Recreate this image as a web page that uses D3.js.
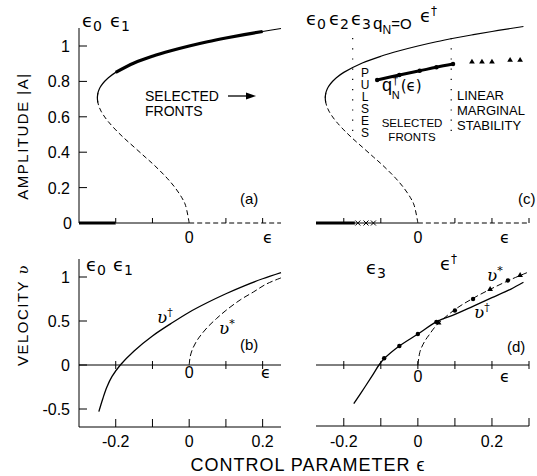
<!DOCTYPE html>
<html>
<head>
<meta charset="utf-8">
<script src="https://cdn.jsdelivr.net/npm/d3@7"></script>
<style>
  body { margin: 0; background: #fff; }
  svg { display: block; }
  text { font-family: 'Liberation Sans', Arial, Helvetica, sans-serif; fill: #000; }
  text.sym { font-family: 'DejaVu Sans', sans-serif; }
  text.vel { font-family: 'DejaVu Serif', serif; font-style: italic; }
</style>
</head>
<body>
<svg id="fig" width="537" height="476"></svg>
<script>
// amplitude branch (lower + upper), ordered by amplitude
var branchEps = [0, -0.01, -0.02, -0.04, -0.06, -0.08, -0.1, -0.12, -0.15, -0.18, -0.2, -0.22, -0.23, -0.24,
    -0.245, -0.2486, -0.25, -0.2484, -0.245, -0.24, -0.23, -0.22, -0.2, -0.15, -0.1, -0.05, 0, 0.05, 0.1,
    0.15, 0.2, 0.25, 0.285];
var branchAmp = [0, 0.1, 0.143, 0.204, 0.253, 0.296, 0.336, 0.373, 0.429, 0.485, 0.526, 0.572, 0.599, 0.632,
    0.655, 0.68, 0.707, 0.735, 0.756, 0.775, 0.801, 0.821, 0.851, 0.904, 0.942, 0.973, 1.0, 1.024, 1.045,
    1.064, 1.082, 1.099, 1.11];

// selected pulse/front amplitude q_N dagger (c)
var qEps = [-0.11, -0.05, 0.005, 0.05, 0.095];
var qAmp = [0.808, 0.836, 0.86, 0.88, 0.898];
var triEps = [0.146, 0.173, 0.2, 0.249, 0.276];
var triAmp = [0.91, 0.91, 0.91, 0.92, 0.92];

// velocities (b)
var vbEps = [-0.246, -0.235, -0.224, -0.21, -0.1875, -0.15, -0.1, -0.05, 0, 0.05, 0.1, 0.15, 0.2, 0.25];
var vbDagger = [-0.53, -0.38, -0.25, -0.13, 0, 0.16, 0.33, 0.47, 0.6, 0.71, 0.81, 0.9, 0.98, 1.05];
var vbStarEps = [0, 0.003, 0.01, 0.02, 0.03, 0.05, 0.075, 0.1, 0.139, 0.175, 0.21, 0.25];
var vbStar = [0, 0.1, 0.19, 0.27, 0.33, 0.43, 0.53, 0.62, 0.74, 0.83, 0.92, 0.99];

// velocities (d)
var vdEps = [-0.173, -0.143, -0.12, -0.105, -0.09, -0.05, 0, 0.05, 0.1, 0.15, 0.2, 0.25, 0.285];
var vdDagger = [-0.44, -0.25, -0.1, 0, 0.076, 0.216, 0.352, 0.49, 0.575, 0.67, 0.765, 0.86, 0.94];
var vdStarEps = [0, 0.005, 0.01, 0.02, 0.03, 0.05, 0.1, 0.15, 0.2, 0.25, 0.295];
var vdStar = [0, 0.14, 0.2, 0.28, 0.34, 0.45, 0.63, 0.76, 0.87, 0.97, 1.05];
var dotEps = [-0.091, -0.05, 0, 0.05, 0.1, 0.149, 0.243];
var dotVel = [0.076, 0.216, 0.352, 0.49, 0.62, 0.75, 0.96];
var triDEps = [0.056, 0.195, 0.276];
var triDVel = [0.48, 0.86, 1.02];

// ticks
var ampTicks = [0.2, 0.4, 0.6, 0.8, 1];
var ampLabels = ['0.2', '0.4', '0.6', '0.8', '1'];
var velTicks = [-0.5, 0, 0.5, 1];
var velLabels = ['-0.5', '0', '0.5', '1'];
var epsTicksL = [-0.2, -0.1, 0, 0.1, 0.2];
var epsTicksR = [-0.2, -0.1, 0, 0.1, 0.2, 0.3];
var epsLabelTicks = [-0.2, 0, 0.2];
var epsLabels = ['-0.2', '0', '0.2'];

// special control parameter values
var eps1 = -0.2;
var epsPulse = -0.17;
var crossEps = [-0.162, -0.14, -0.12];
var dotLineEps = [-0.176, 0.09];

var svg = d3.select('#fig');

var xL = d3.scaleLinear().domain([-0.3, 0.25]).range([79, 281]);
var xR = d3.scaleLinear().domain([-0.275, 0.3]).range([316, 529]);
var yA = d3.scaleLinear().domain([0, 1]).range([223, 46]);
var yV = d3.scaleLinear().domain([-0.5, 1]).range([409, 277]);

function pts(xs, ys) { return d3.zip(xs, ys); }

function path(g, x, y, data, width, dash) {
    var line = d3.line()
        .x(function (d) { return x(d[0]); })
        .y(function (d) { return y(d[1]); })
        .curve(d3.curveCatmullRom);
    return g.append('path')
        .attr('d', line(data))
        .style('fill', 'none')
        .style('stroke', '#000')
        .style('stroke-width', width)
        .style('stroke-dasharray', dash || null);
}

function seg(g, x1, y1, x2, y2, width, dash) {
    g.append('line')
        .attr('x1', x1).attr('y1', y1).attr('x2', x2).attr('y2', y2)
        .style('stroke', '#000')
        .style('stroke-width', width)
        .style('stroke-dasharray', dash || null);
}

function label(x, y, str, size, anchor) {
    return svg.append('text')
        .attr('x', x).attr('y', y)
        .attr('text-anchor', anchor || 'start')
        .style('font-size', size + 'px')
        .text(str);
}

// symbol with subscript / superscript
function sym(x, y, base, sub, sup, size, cls) {
    var t = label(x, y, base, size).attr('class', cls || 'sym');
    if (sub) t.append('tspan').attr('dy', 4).style('font-size', (size - 4) + 'px').text(sub);
    if (sup) t.append('tspan').attr('dy', sub ? -10 : -7).style('font-size', (size - 6) + 'px')
        .style('font-style', 'normal').text(sup);
    return t;
}

var branch = pts(branchEps, branchAmp);
var nose = 16;
var lowerPart = branch.slice(0, nose + 2);
var upperPart = branch.slice(nose - 1);

// ---------- panel (a)
var ga = svg.append('g');
seg(ga, xL(-0.3), yA(0), xL(-0.3), 28, 1);
ampTicks.forEach(function (t, i) {
    seg(ga, xL(-0.3), yA(t), xL(-0.3) + 8, yA(t), 1);
    label(70, yA(t) + 6, ampLabels[i], 16, 'end');
});
label(72, yA(0) + 6, '0', 16, 'end');
seg(ga, xL(-0.3), yA(0), xL(eps1), yA(0), 3.2);
seg(ga, xL(eps1), yA(0), xL(0), yA(0), 1);
seg(ga, xL(0), yA(0), xL(0.25), yA(0), 1, '5,3');
[-0.2, -0.1, 0.1, 0.2].forEach(function (t) { seg(ga, xL(t), yA(0), xL(t), yA(0) - 5, 1); });
path(ga, xL, yA, lowerPart, 1, '5,3');
path(ga, xL, yA, upperPart.filter(function (d) { return d[0] <= 0.25; }), 1.2);
path(ga, xL, yA, branch.slice(nose + 6).filter(function (d) { return d[0] >= eps1 && d[0] <= 0.24; }), 3.2);
label(xL(0), 243, '0', 16, 'middle');
label(268, 243, 'ϵ', 16, 'middle').attr('class', 'sym');
label(240, 204, '(a)', 15);
label(145, 101, 'SELECTED', 14);
label(145, 116, 'FRONTS', 14);
seg(ga, 228, 96, 250, 96, 1.3);
ga.append('path').attr('d', 'M256,96 L246,92.5 L246,99.5 Z').style('fill', '#000');
sym(82, 27, 'ϵ', '0', null, 18);
sym(110, 27, 'ϵ', '1', null, 18);

// ---------- panel (c)
var gc = svg.append('g');
seg(gc, xR(-0.275), yA(0), xR(epsPulse), yA(0), 3.2);
seg(gc, xR(epsPulse), yA(0), xR(0), yA(0), 1);
seg(gc, xR(0), yA(0), xR(0.3), yA(0), 1, '5,3');
[-0.2, -0.1, 0.1, 0.2, 0.3].forEach(function (t) { seg(gc, xR(t), yA(0), xR(t), yA(0) - 5, 1); });
crossEps.forEach(function (e) {
    var cx = xR(e), cy = yA(0);
    seg(gc, cx - 2.5, cy - 2.5, cx + 2.5, cy + 2.5, 1);
    seg(gc, cx - 2.5, cy + 2.5, cx + 2.5, cy - 2.5, 1);
});
path(gc, xR, yA, lowerPart, 1, '5,3');
path(gc, xR, yA, upperPart, 1.2);
dotLineEps.forEach(function (e) { seg(gc, xR(e), 38, xR(e), 140, 1.2, '1.2,9'); });
var qData = pts(qEps, qAmp);
path(gc, xR, yA, qData, 3);
gc.selectAll('circle.q').data(qData).enter().append('circle')
    .attr('cx', function (d) { return xR(d[0]); })
    .attr('cy', function (d) { return yA(d[1]); })
    .attr('r', 2.2);
gc.selectAll('path.tri').data(pts(triEps, triAmp)).enter().append('path')
    .attr('d', d3.symbol(d3.symbolTriangle, 14))
    .attr('transform', function (d) { return 'translate(' + xR(d[0]) + ',' + yA(d[1]) + ')'; });
label(xR(0), 243, '0', 16, 'middle');
label(505, 243, 'ϵ', 16, 'middle').attr('class', 'sym');
label(518, 204, '(c)', 15);
sym(306, 25, 'ϵ', '0', null, 18);
sym(329, 25, 'ϵ', '2', null, 18);
sym(351, 25, 'ϵ', '3', null, 18);
var qt = label(373, 29, 'q', 17);
qt.append('tspan').attr('dy', 5).style('font-size', '12px').text('N');
qt.append('tspan').attr('dy', -5).style('font-size', '15px').text('=O');
sym(420, 22, 'ϵ', null, '†', 18);
label(365, 66, 'PULSES', 12)
    .style('writing-mode', 'vertical-rl')
    .style('text-orientation', 'upright')
    .style('letter-spacing', '-2px');
var qn = label(382, 91, 'q', 18);
qn.append('tspan').attr('dx', 0).attr('dy', -7).style('font-size', '12px').text('†');
qn.append('tspan').attr('dx', -7).attr('dy', 15).style('font-size', '11px').text('N');
qn.append('tspan').attr('dx', 1).attr('dy', -8).style('font-size', '15px')
    .style('font-family', "'DejaVu Sans', sans-serif").text('(ϵ)');
label(457, 100, 'LINEAR', 13);
label(457, 115, 'MARGINAL', 13);
label(457, 130, 'STABILITY', 13);
label(412, 127, 'SELECTED', 11.5, 'middle');
label(412, 141, 'FRONTS', 11.5, 'middle');

// ---------- panel (b)
var gb = svg.append('g');
seg(gb, xL(-0.3), 427, xL(-0.3), 259, 1);
velTicks.forEach(function (t, i) {
    seg(gb, xL(-0.3), yV(t), xL(-0.3) + 8, yV(t), 1);
    label(70, yV(t) + 6, velLabels[i], 16, 'end');
});
seg(gb, xL(-0.3), yV(0), xL(0.25), yV(0), 1);
[-0.2, -0.1, 0.1, 0.2].forEach(function (t) { seg(gb, xL(t), yV(0) - 4, xL(t), yV(0) + 4, 1); });
seg(gb, xL(-0.3), 427, xL(0.25), 427, 1);
epsTicksL.forEach(function (t) { seg(gb, xL(t), 427, xL(t), 419, 1); });
epsLabelTicks.forEach(function (t, i) { label(xL(t), 447, epsLabels[i], 16, 'middle'); });
path(gb, xL, yV, pts(vbEps, vbDagger), 1.3);
path(gb, xL, yV, pts(vbStarEps, vbStar), 1, '6,3');
label(xL(0), 378, '0', 16, 'middle');
label(266, 378, 'ϵ', 16, 'middle').attr('class', 'sym');
label(240, 350, '(b)', 15);
sym(86, 271, 'ϵ', '0', null, 18);
sym(113, 271, 'ϵ', '1', null, 18);
sym(157, 323, 'ʋ', null, '†', 17, 'vel');
sym(219, 334, 'ʋ', null, '*', 17, 'vel');

// ---------- panel (d)
var gd = svg.append('g');
seg(gd, xR(-0.275), yV(0), xR(0.3), yV(0), 1);
epsTicksR.forEach(function (t) { seg(gd, xR(t), yV(0) - 4, xR(t), yV(0) + 4, 1); });
seg(gd, xR(-0.275), 426, xR(0.3), 426, 1);
epsTicksR.forEach(function (t) { seg(gd, xR(t), 426, xR(t), 418, 1); });
epsLabelTicks.forEach(function (t, i) { label(xR(t), 447, epsLabels[i], 16, 'middle'); });
path(gd, xR, yV, pts(vdEps, vdDagger), 1.3);
path(gd, xR, yV, pts(vdStarEps, vdStar), 1, '6,3');
gd.selectAll('circle.v').data(pts(dotEps, dotVel)).enter().append('circle')
    .attr('cx', function (d) { return xR(d[0]); })
    .attr('cy', function (d) { return yV(d[1]); })
    .attr('r', 2.2);
gd.selectAll('path.tri').data(pts(triDEps, triDVel)).enter().append('path')
    .attr('d', d3.symbol(d3.symbolTriangle, 14))
    .attr('transform', function (d) { return 'translate(' + xR(d[0]) + ',' + yV(d[1]) + ')'; });
label(xR(0), 382, '0', 16, 'middle');
label(505, 382, 'ϵ', 16, 'middle').attr('class', 'sym');
label(507, 352, '(d)', 15);
sym(366, 274, 'ϵ', '3', null, 18);
sym(440, 270, 'ϵ', null, '†', 18);
sym(487, 281, 'ʋ', null, '*', 17, 'vel');
sym(474, 318, 'ʋ', null, '†', 17, 'vel');

// ---------- axis titles
label(0, 0, 'AMPLITUDE |A|', 15, 'middle')
    .attr('transform', 'translate(28,136) rotate(-90)')
    .style('letter-spacing', '1.5px');
var vt = label(0, 0, 'VELOCITY ', 15, 'middle')
    .attr('transform', 'translate(28,315) rotate(-90)')
    .style('letter-spacing', '1.5px');
vt.append('tspan').style('font-family', "'DejaVu Serif', serif").style('font-style', 'italic').text('ʋ');
label(308, 471, 'CONTROL PARAMETER ϵ', 18, 'middle')
    .style('letter-spacing', '1px');
</script>
</body>
</html>
